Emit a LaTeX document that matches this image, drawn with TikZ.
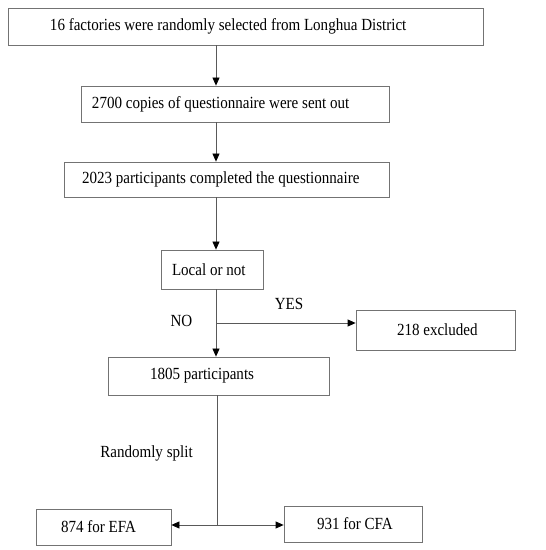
\documentclass[tikz,border=0pt]{standalone}
\usepackage{fontspec}
\setmainfont[FakeStretch=0.885]{Liberation Serif}
\usetikzlibrary{arrows.meta}

\newcommand{\padtext}[3]{\makebox[#1][l]{\hspace*{#2}#3}}

\tikzset{
    box/.style={draw=black!55, line width=0.8pt, inner xsep=0pt, inner ysep=0pt,
        font=\fontsize{17}{19}\selectfont},
    lbl/.style={font=\fontsize{17}{19}\selectfont, inner sep=0pt},
    arr/.style={-{Triangle[length=8pt,width=7pt,color=black]}},
}

\begin{document}
\begin{tikzpicture}[x=1pt,y=1pt, line width=0.8pt, draw=black!65]
\useasboundingbox (0,0) rectangle (546,550);

%boxes
    \node[box, minimum height=37pt] (fac) at (245.5,523.5) {\padtext{475pt}{42pt}{16 factories were randomly selected from Longhua District}};
    \node[box, minimum height=36pt] (sent) at (235,446) {\padtext{308pt}{11pt}{2700 copies of questionnaire were sent out}};
    \node[box, minimum height=35pt] (done) at (226.5,370.5) {\padtext{325pt}{18pt}{2023 participants completed the questionnaire}};
    \node[box, minimum height=39pt] (local) at (212,280.5) {\padtext{102pt}{11pt}{Local or not}};
    \node[box, minimum height=40pt] (excl) at (435.5,220) {\padtext{159pt}{41pt}{218 excluded}};
    \node[box, minimum height=38pt] (part) at (218.5,174) {\padtext{221pt}{42pt}{1805 participants}};
    \node[box, minimum height=36pt] (efa) at (103.5,23) {\padtext{135pt}{25pt}{874 for EFA}};
    \node[box, minimum height=36pt] (cfa) at (353,26) {\padtext{138pt}{33pt}{931 for CFA}};

%labels
    \node[lbl] (yes) at (289,246) {YES};
    \node[lbl] (no) at (181.5,229) {NO};
    \node[lbl] (split) at (146.5,97) {Randomly split};

%connectors
    \coordinate (spine) at (216,0);
    \coordinate (branch) at (216,227);
    \coordinate (fork) at (217,25);
    \draw[arr] (fac.south -| spine) -- (sent.north -| spine);
    \draw[arr] (sent.south -| spine) -- (done.north -| spine);
    \draw[arr] (done.south -| spine) -- (local.north -| spine);
    \draw[arr] (local.south -| spine) -- (part.north -| spine);
    \draw[arr] (branch) -- (excl.west |- branch);
    \draw (part.south -| fork) -- (fork);
    \draw[arr] (fork) -- (efa.east |- fork);
    \draw[arr] (fork) -- (cfa.west |- fork);
\end{tikzpicture}
\end{document}
